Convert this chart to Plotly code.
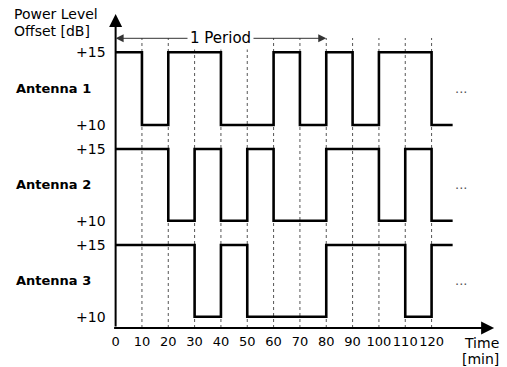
import plotly.graph_objects as go

# Switching schedule: time of each level change [min] and the level from then on [dB]
ant1_t = [0, 10, 20, 40, 60, 70, 80, 90, 100, 120, 128]
ant1_db = [15, 10, 15, 10, 15, 10, 15, 10, 15, 10, 10]
ant2_t = [0, 20, 30, 40, 50, 60, 80, 100, 110, 120, 128]
ant2_db = [15, 10, 15, 10, 15, 10, 15, 10, 15, 10, 10]
ant3_t = [0, 30, 40, 50, 80, 110, 120, 128]
ant3_db = [15, 10, 15, 10, 15, 10, 15, 15]

antenna_names = ["Antenna 1", "Antenna 2", "Antenna 3"]
time_ticks = [0, 10, 20, 30, 40, 50, 60, 70, 80, 90, 100, 110, 120]
level_ticks = [10, 15]
level_text = ["+10", "+15"]
period_min = 80

W, H = 507, 367
FONT = "DejaVu Sans"

def py(p):
    """pixel row -> paper fraction"""
    return 1 - p / H

# horizontal scale: 0 min at x=112.5 px, 10 min per 26.54 px
X0_PX, X_END_PX = 112.5, 494
PX_PER_MIN = 2.654
x_max = (X_END_PX - X0_PX) / PX_PER_MIN

# vertical placement of each strip: pixel rows of +15 and +10, plus padding
strips = [
    dict(p15=52.3, p10=125.0, top=44.3, bot=133.0),
    dict(p15=149.0, p10=220.7, top=141.0, bot=228.7),
    dict(p15=245.0, p10=316.7, top=237.0, bot=328.0),
]

fig = go.Figure()
series = [(ant1_t, ant1_db), (ant2_t, ant2_db), (ant3_t, ant3_db)]
for i, (t, db) in enumerate(series):
    fig.add_trace(go.Scatter(
        x=t, y=db, mode="lines", line=dict(shape="hv", color="black", width=2.6),
        xaxis="x", yaxis="y" if i == 0 else f"y{i+1}", showlegend=False,
        hoverinfo="skip",
    ))

layout_axes = {}
for i, s in enumerate(strips):
    scale = (s["p10"] - s["p15"]) / 5.0
    lo = 10 - (s["bot"] - s["p10"]) / scale
    hi = 15 + (s["p15"] - s["top"]) / scale
    name = "yaxis" if i == 0 else f"yaxis{i+1}"
    layout_axes[name] = dict(
        domain=[py(s["bot"]), py(s["top"])], range=[lo, hi], anchor="x",
        tickvals=level_ticks, ticktext=level_text, ticks="",
        ticklabelstandoff=9, showgrid=False, zeroline=False, showline=False,
        tickfont=dict(family=FONT, size=14, color="black"), fixedrange=True,
    )

fig.update_layout(
    width=W, height=H, margin=dict(l=0, r=0, t=0, b=0),
    paper_bgcolor="white", plot_bgcolor="rgba(0,0,0,0)",
    xaxis=dict(
        domain=[X0_PX / W, X_END_PX / W], range=[0, x_max], anchor="y3",
        tickvals=time_ticks, ticktext=[str(v) for v in time_ticks], ticks="",
        tickangle=0, ticklabelstandoff=4, showgrid=False, zeroline=False,
        showline=False, tickfont=dict(family=FONT, size=13, color="black"),
        fixedrange=True,
    ),
    **layout_axes,
)

# dotted time grid across all three strips
for v in time_ticks[1:]:
    fig.add_shape(type="line", xref="x", yref="paper", x0=v, x1=v,
                  y0=py(328), y1=py(38), layer="below",
                  line=dict(color="#555555", width=1, dash="dot"))

ann = []
# vertical axis with arrow
ann.append(dict(x=0, xref="x", y=py(14), yref="paper", ax=0, ay=314,
                axref="pixel", ayref="pixel", text="", showarrow=True,
                arrowhead=2, arrowsize=1.3, arrowwidth=2, arrowcolor="black"))
# time axis with arrow
ann.append(dict(x=x_max, xref="x", y=py(328), yref="paper", ax=-(X_END_PX - X0_PX),
                ay=0, text="", showarrow=True, arrowhead=2, arrowsize=1.3,
                arrowwidth=2, arrowcolor="black"))
# one-period span
for end in (0, period_min):
    ann.append(dict(x=end, xref="x", y=py(38.3), yref="paper",
                    ax=period_min / 2, axref="x", ay=0, ayref="pixel", text="",
                    showarrow=True, arrowhead=2, arrowsize=1.6, arrowwidth=1,
                    arrowcolor="#333333"))
ann.append(dict(x=period_min / 2, xref="x", y=py(38.3), yref="paper",
                text="1 Period", showarrow=False, bgcolor="white",
                font=dict(family=FONT, size=15, color="black"),
                xanchor="center", yanchor="middle", borderpad=2))
# axis titles
ann.append(dict(x=8 / W, xref="paper", y=py(14), yref="paper", text="Power Level",
                showarrow=False, xanchor="left", yanchor="middle",
                font=dict(family=FONT, size=14, color="black")))
ann.append(dict(x=8 / W, xref="paper", y=py(31), yref="paper", text="Offset [dB]",
                showarrow=False, xanchor="left", yanchor="middle",
                font=dict(family=FONT, size=14, color="black")))
ann.append(dict(x=462 / W, xref="paper", y=py(343), yref="paper", text="Time",
                showarrow=False, xanchor="left", yanchor="middle",
                font=dict(family=FONT, size=14, color="black")))
ann.append(dict(x=460 / W, xref="paper", y=py(359), yref="paper", text="[min]",
                showarrow=False, xanchor="left", yanchor="middle",
                font=dict(family=FONT, size=14, color="black")))
# strip names and continuation marks
for i, name in enumerate(antenna_names):
    yref = "y" if i == 0 else f"y{i+1}"
    ann.append(dict(x=10 / W, xref="paper", y=12.5, yref=yref, text=name,
                    showarrow=False, xanchor="left", yanchor="middle",
                    font=dict(family=FONT, size=13, color="black", weight="bold")))
    ann.append(dict(x=(461 - X0_PX) / PX_PER_MIN, xref="x", y=12.5, yref=yref,
                    text="...", showarrow=False, xanchor="center", yanchor="middle",
                    font=dict(family=FONT, size=13, color="#555555")))
fig.update_layout(annotations=ann)

fig.write_html("out.html")
